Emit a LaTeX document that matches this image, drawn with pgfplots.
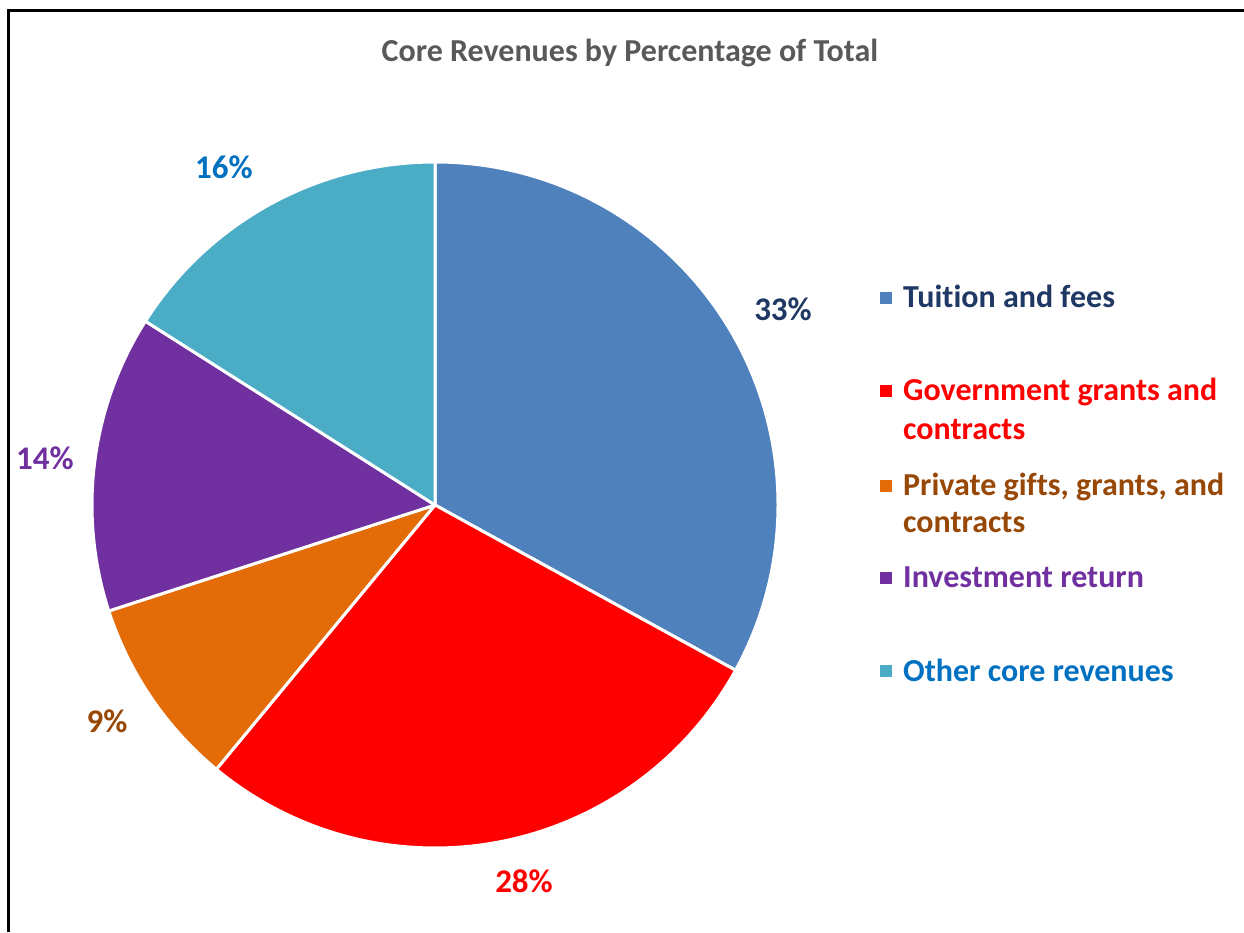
\documentclass[border=0pt]{standalone}
\usepackage{pgfplots}
\usepackage{pgfplotstable}
\pgfplotsset{compat=1.18}
\usepackage{fontspec}
\setmainfont{Carlito}[Ligatures={NoCommon}]

\definecolor{tuition}{HTML}{4F81BD}
\definecolor{govt}{HTML}{FF0000}
\definecolor{priv}{HTML}{E36C09}
\definecolor{invest}{HTML}{7030A0}
\definecolor{other}{HTML}{4BACC6}
\definecolor{tuitiontxt}{HTML}{1F3864}
\definecolor{privtxt}{HTML}{984806}
\definecolor{othertxt}{HTML}{0070C0}
\definecolor{titlegrey}{HTML}{595959}

% share of total, slice colour, label colour, label position (px, y up)
\pgfplotstableread{
value fill    lcol       lx  ly
33    tuition tuitiontxt 783 622
28    govt    govt       524 50
9     priv    privtxt    107 210
14    invest  invest     45  473
16    other   othertxt   224 764
}\piedata

\begin{document}
\begin{tikzpicture}
\begin{axis}[
    at={(0,0)}, anchor=south west,
    scale only axis, x=1pt, y=1pt,
    xmin=0, xmax=1244, ymin=0, ymax=932,
    axis lines=none, clip=false,
]
\pgfplotsextra{
  \gdef\startang{90}
  \pgfplotstablegetrowsof{\piedata}
  \pgfmathtruncatemacro\nrows{\pgfplotsretval-1}
  \foreach \i in {0,...,\nrows}{
    \pgfplotstablegetelem{\i}{value}\of\piedata \let\val\pgfplotsretval
    \pgfplotstablegetelem{\i}{fill}\of\piedata \let\fc\pgfplotsretval
    \pgfplotstablegetelem{\i}{lcol}\of\piedata \let\lc\pgfplotsretval
    \pgfplotstablegetelem{\i}{lx}\of\piedata \let\lx\pgfplotsretval
    \pgfplotstablegetelem{\i}{ly}\of\piedata \let\ly\pgfplotsretval
    \pgfmathsetmacro\endang{\startang-3.6*\val}
    \filldraw[fill=\fc, draw=white, line width=3pt, line join=round]
      (axis cs:435,427) -- ++(\startang:343pt)
      arc[start angle=\startang, end angle=\endang, radius=343pt] -- cycle;
    \pgfmathsetmacro\by{\ly-10.3}
    \node[text=\lc, anchor=base, inner sep=0pt,
          font=\fontsize{33}{38}\selectfont\bfseries]
      at (axis cs:\lx,\by) {\val\%};
    \xdef\startang{\endang}
  }
}
\end{axis}

% title
\node[anchor=base, inner sep=0pt, text=titlegrey,
      font=\fontsize{32}{36}\selectfont\bfseries]
  at (630pt,870pt) {Core Revenues by Percentage of Total};

% legend
\tikzset{legtxt/.style={anchor=base west, inner sep=0pt,
  font=\fontsize{32}{38}\selectfont\bfseries}}
\fill[tuition] (880pt,628pt) rectangle ++(12pt,12pt);
\node[legtxt, text=tuitiontxt] at (903pt,624pt) {Tuition and fees};
\fill[govt] (880pt,535pt) rectangle ++(12pt,12pt);
\node[legtxt, text=govt] at (903pt,531pt) {Government grants and};
\node[legtxt, text=govt] at (903pt,492pt) {contracts};
\fill[priv] (880pt,440pt) rectangle ++(12pt,12pt);
\node[legtxt, text=privtxt] at (903pt,436pt) {Private gifts, grants, and};
\node[legtxt, text=privtxt] at (903pt,399pt) {contracts};
\fill[invest] (880pt,348pt) rectangle ++(12pt,12pt);
\node[legtxt, text=invest] at (903pt,344pt) {Investment return};
\fill[other] (880pt,255pt) rectangle ++(12pt,12pt);
\node[legtxt, text=othertxt] at (903pt,251pt) {Other core revenues};

% chart frame
\draw[black, line width=2.2pt] (8.5pt,0pt) -- (8.5pt,921.5pt) -- (1244pt,921.5pt);

\pgfresetboundingbox
\path (0,0) rectangle (1244pt,932pt);
\end{tikzpicture}
\end{document}
